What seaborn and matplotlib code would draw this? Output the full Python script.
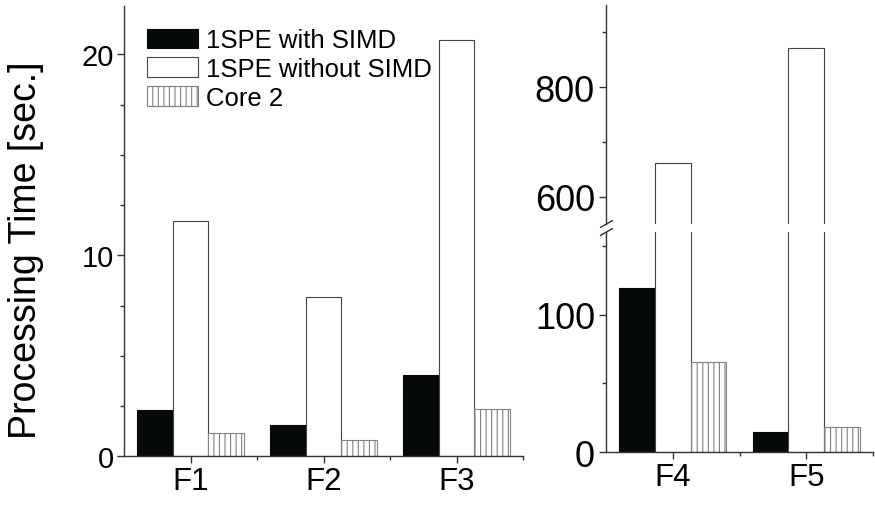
import matplotlib
matplotlib.use('Agg')
import matplotlib.pyplot as plt
import seaborn as sns
import pandas as pd
import numpy as np
from matplotlib.ticker import FixedLocator
from matplotlib.lines import Line2D

# ---- data ----
categories = ['F1', 'F2', 'F3', 'F4', 'F5']
left_categories = ['F1', 'F2', 'F3']
right_categories = ['F4', 'F5']
series = ['1SPE with SIMD', '1SPE without SIMD', 'Core 2']
with_simd = [2.29, 1.56, 4.05, 119.3, 14.9]
without_simd = [11.69, 7.9, 20.69, 662.0, 872.0]
core2 = [1.16, 0.83, 2.36, 65.7, 18.1]
ylabel = 'Processing Time [sec.]'

df = pd.DataFrame({
    'category': categories * 3,
    'series': np.repeat(series, len(categories)),
    'time': with_simd + without_simd + core2,
})

sns.set_style('ticks')
plt.rcParams['font.family'] = ['Liberation Sans', 'DejaVu Sans']
plt.rcParams['hatch.linewidth'] = 0.8
plt.rcParams['text.color'] = 'black'
plt.rcParams['axes.labelcolor'] = 'black'
plt.rcParams['xtick.labelcolor'] = 'black'
plt.rcParams['ytick.labelcolor'] = 'black'

W, H = 875, 506
fig = plt.figure(figsize=(W / 100, H / 100), dpi=100)


def box(l, t, r, b):
    return [l / W, 1 - b / H, (r - l) / W, (b - t) / H]


axL = fig.add_axes(box(124, 7, 523, 457.3))
axRu = fig.add_axes(box(606, 6, 873, 225))
axRl = fig.add_axes(box(606, 233, 873, 453.3))

palette = {'1SPE with SIMD': '#050908', '1SPE without SIMD': 'white', 'Core 2': 'white'}
edges = ['#050908', '#444444', '#808080']
hatches = [None, None, '|||']
axis_color = '#333333'


def draw(ax, cats):
    sub = df[df['category'].isin(cats)]
    sns.barplot(data=sub, x='category', y='time', hue='series', order=cats,
                hue_order=series, palette=palette, ax=ax, legend=False,
                width=0.8, saturation=1, errorbar=None)
    for cont, ec, h in zip(ax.containers, edges, hatches):
        for p in cont:
            p.set_edgecolor(ec)
            p.set_linewidth(0.8)
            if h:
                p.set_hatch(h)
    ax.set_xlabel('')
    ax.set_ylabel('')
    for s in ax.spines.values():
        s.set_color(axis_color)
        s.set_linewidth(1.0)
    ax.tick_params(which='both', color=axis_color, width=1.0, labelcolor='black')
    ax.tick_params(which='major', length=5)
    ax.tick_params(which='minor', length=3)


draw(axL, left_categories)
draw(axRu, right_categories)
draw(axRl, right_categories)

for ax in (axL, axRu, axRl):
    sns.despine(ax=ax)

# left panel
axL.set_xlim(-0.5, 2.5)
axL.set_ylim(0, 22.4)
axL.set_yticks([0, 10, 20])
axL.yaxis.set_minor_locator(FixedLocator([2.5, 5, 7.5, 12.5, 15, 17.5]))
axL.xaxis.set_minor_locator(FixedLocator([0.5, 1.5, 2.5]))
axL.tick_params(axis='y', labelsize=21, pad=2)
axL.tick_params(axis='x', labelsize=22.5, pad=2)
axL.set_ylabel(ylabel, fontsize=27, color='black')
axL.yaxis.set_label_coords(44 / W, 1 - 250.5 / H, transform=fig.transFigure)

# right lower
axRl.set_xlim(-0.5, 1.5)
axRl.set_ylim(0, 160)
axRl.set_yticks([0, 100])
axRl.yaxis.set_minor_locator(FixedLocator([50, 150]))
axRl.xaxis.set_minor_locator(FixedLocator([0.5, 1.5]))
axRl.tick_params(axis='y', labelsize=26, pad=3)
axRl.tick_params(axis='x', labelsize=22.5, pad=2)

# right upper
axRu.set_xlim(-0.5, 1.5)
axRu.set_ylim(550, 950)
axRu.set_yticks([600, 800])
axRu.yaxis.set_minor_locator(FixedLocator([700, 900]))
axRu.tick_params(axis='y', labelsize=26, pad=3)
axRu.spines['bottom'].set_visible(False)
axRu.tick_params(axis='x', which='both', bottom=False, labelbottom=False)

# break marks
for y0 in (228.5, 236.5):
    fig.add_artist(Line2D([600.5 / W, 612.5 / W], [1 - y0 / H, 1 - (y0 - 7) / H],
                          transform=fig.transFigure, color=axis_color, lw=1.0))

# legend
handles = [axL.containers[i][0] for i in range(3)]
axL.legend(handles, series, loc='upper left',
           bbox_to_anchor=(146.7 / W, 1 - 29.5 / H), bbox_transform=fig.transFigure,
           frameon=False, fontsize=18.5, handlelength=2.0, handleheight=0.8,
           handletextpad=0.3, labelspacing=0.18, borderpad=0, borderaxespad=0,
           labelcolor='black')

fig.savefig('out.png', dpi=100)
